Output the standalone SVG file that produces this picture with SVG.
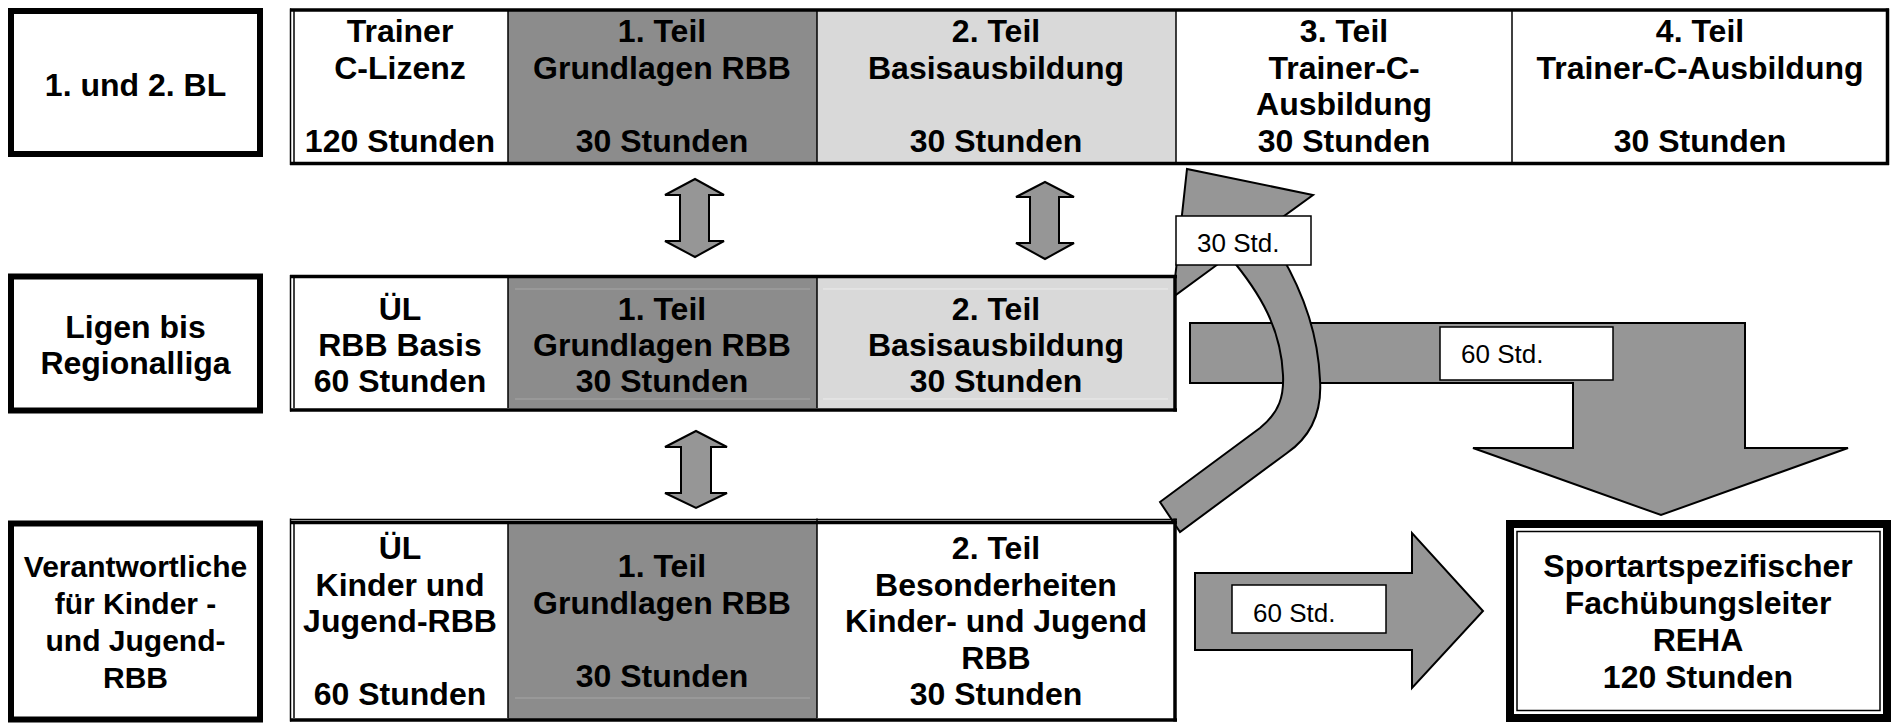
<svg xmlns="http://www.w3.org/2000/svg" width="1894" height="724" viewBox="0 0 1894 724">
<style>
.t{font-family:"Liberation Sans",Arial,sans-serif;font-weight:bold;font-size:32px;fill:#000;text-anchor:middle}
.s{font-size:30px}
.lb{font-family:"Liberation Sans",Arial,sans-serif;font-size:26px;fill:#000}
.box{fill:#fff;stroke:#000;stroke-width:6}
.arr{fill:#969696;stroke:#000;stroke-width:2;stroke-linejoin:miter}
.lbox{fill:#fff;stroke:#000;stroke-width:1.5}
.dark{fill:#8c8c8c}
.light{fill:#d9d9d9}
.thick{stroke:#000;stroke-width:3.5;fill:none}
.thin{stroke:#000;stroke-width:1.5;fill:none}
.fd{stroke:#a6a6a6;stroke-width:1;fill:none}
.fl{stroke:#ececec;stroke-width:1;fill:none}
</style>
<rect width="1894" height="724" fill="#fff"/>
<g id="connectors">
  <path class="arr" d="M695,179 L724,195 L709,195 L709,241 L724,241 L695,257 L665,241 L680,241 L680,195 L665,195 Z"/>
  <path class="arr" d="M1045,182 L1074,197 L1059,197 L1059,243 L1074,243 L1045,259 L1016,243 L1030,243 L1030,197 L1016,197 Z"/>
  <path class="arr" d="M696,431 L727,447 L711,447 L711,493 L727,493 L696,508 L665,493 L681,493 L681,447 L665,447 Z"/>
  <path class="arr" d="M1190,323 L1745,323 L1745,448 L1848,448 L1661,515 L1473,448 L1573,448 L1573,383 L1190,383 Z"/>
  <path class="arr" d="M1160,502 L1260,428 C1280,412 1284,395 1283,375 C1281,330 1262,295 1229,256 L1173,297 L1187,169 L1313,195 L1265,230 C1300,280 1318,330 1320,380 C1322,410 1313,435 1287,453 L1180,532 Z"/>
  <path class="arr" d="M1195,573 L1412,573 L1412,533 L1483,611 L1412,688 L1412,650 L1195,650 Z"/>
  <rect class="lbox" x="1176" y="216" width="135" height="49"/>
  <text class="lb" x="1197" y="252">30 Std.</text>
  <rect class="lbox" x="1440" y="327" width="173" height="53"/>
  <text class="lb" x="1461" y="363">60 Std.</text>
  <rect class="lbox" x="1232" y="585" width="154" height="48"/>
  <text class="lb" x="1253" y="622">60 Std.</text>
</g>
<g id="label-bl">
  <rect class="box" x="11" y="11" width="249" height="143"/>
  <text class="t" x="135.5" y="96">1. und 2. BL</text>
</g>
<g id="label-liga">
  <rect class="box" x="11" y="276.5" width="249" height="134"/>
  <text class="t" x="135.5" y="338">Ligen bis</text>
  <text class="t" x="135.5" y="374">Regionalliga</text>
</g>
<g id="label-kinder">
  <rect class="box" x="11" y="523.5" width="249" height="196"/>
  <text class="t s" x="135.5" y="577">Verantwortliche</text>
  <text class="t s" x="135.5" y="614">für Kinder -</text>
  <text class="t s" x="135.5" y="651">und Jugend-</text>
  <text class="t s" x="135.5" y="688">RBB</text>
</g>
<g id="row1">
  <rect class="dark" x="508" y="11" width="309" height="151"/>
  <rect class="light" x="817" y="11" width="359" height="151"/>
  <line class="thick" x1="290" y1="10" x2="1889" y2="10"/>
  <line class="thick" x1="290" y1="163.5" x2="1889" y2="163.5"/>
  <line class="thick" x1="1887.5" y1="8.5" x2="1887.5" y2="165"/>
  <line class="thin" x1="290.5" y1="8.5" x2="290.5" y2="165"/>
  <line class="thin" x1="294" y1="11" x2="294" y2="162"/>
  <line class="thin" x1="508" y1="11" x2="508" y2="162"/>
  <line class="thin" x1="817" y1="11" x2="817" y2="162"/>
  <line class="thin" x1="1176" y1="11" x2="1176" y2="162"/>
  <line class="thin" x1="1512" y1="11" x2="1512" y2="162"/>
  <text class="t" x="400" y="42">Trainer</text>
  <text class="t" x="400" y="78.5">C-Lizenz</text>
  <text class="t" x="400" y="151.5">120 Stunden</text>
  <text class="t" x="662" y="42">1. Teil</text>
  <text class="t" x="662" y="78.5">Grundlagen RBB</text>
  <text class="t" x="662" y="151.5">30 Stunden</text>
  <text class="t" x="996" y="42">2. Teil</text>
  <text class="t" x="996" y="78.5">Basisausbildung</text>
  <text class="t" x="996" y="151.5">30 Stunden</text>
  <text class="t" x="1344" y="42">3. Teil</text>
  <text class="t" x="1344" y="78.5">Trainer-C-</text>
  <text class="t" x="1344" y="115">Ausbildung</text>
  <text class="t" x="1344" y="151.5">30 Stunden</text>
  <text class="t" x="1700" y="42">4. Teil</text>
  <text class="t" x="1700" y="78.5">Trainer-C-Ausbildung</text>
  <text class="t" x="1700" y="151.5">30 Stunden</text>
</g>
<g id="row2">
  <rect fill="#fff" x="294" y="278" width="214" height="130"/>
  <rect class="dark" x="508" y="278" width="309" height="130"/>
  <rect class="light" x="817" y="278" width="358" height="130"/>
  <line class="fd" x1="515" y1="289" x2="810" y2="289"/>
  <line class="fd" x1="515" y1="399" x2="810" y2="399"/>
  <line class="fl" x1="823" y1="289" x2="1168" y2="289"/>
  <line class="fl" x1="823" y1="399" x2="1168" y2="399"/>
  <line class="thick" x1="290" y1="276.5" x2="1177" y2="276.5"/>
  <line class="thick" x1="290" y1="410" x2="1177" y2="410"/>
  <line class="thick" x1="1175" y1="275" x2="1175" y2="411.5"/>
  <line class="thin" x1="290.5" y1="275" x2="290.5" y2="411.5"/>
  <line class="thin" x1="294" y1="278" x2="294" y2="408"/>
  <line class="thin" x1="508" y1="278" x2="508" y2="408"/>
  <line class="thin" x1="817" y1="278" x2="817" y2="408"/>
  <text class="t" x="400" y="320">ÜL</text>
  <text class="t" x="400" y="356">RBB Basis</text>
  <text class="t" x="400" y="392">60 Stunden</text>
  <text class="t" x="662" y="320">1. Teil</text>
  <text class="t" x="662" y="356">Grundlagen RBB</text>
  <text class="t" x="662" y="392">30 Stunden</text>
  <text class="t" x="996" y="320">2. Teil</text>
  <text class="t" x="996" y="356">Basisausbildung</text>
  <text class="t" x="996" y="392">30 Stunden</text>
</g>
<g id="row3">
  <rect fill="#fff" x="294" y="522" width="881" height="197"/>
  <rect class="dark" x="508" y="523" width="309" height="196"/>
  <line class="fd" x1="515" y1="698" x2="810" y2="698"/>
  <line class="thin" x1="290" y1="519.5" x2="1177" y2="519.5"/>
  <line class="thick" x1="290" y1="522.5" x2="1177" y2="522.5"/>
  <line class="thick" x1="290" y1="720" x2="1177" y2="720"/>
  <line class="thick" x1="1175" y1="518.5" x2="1175" y2="721.5"/>
  <line class="thin" x1="290.5" y1="518.5" x2="290.5" y2="721.5"/>
  <line class="thin" x1="294" y1="523" x2="294" y2="718"/>
  <line class="thin" x1="508" y1="523" x2="508" y2="718"/>
  <line class="thin" x1="817" y1="518.5" x2="817" y2="718"/>
  <text class="t" x="400" y="559">ÜL</text>
  <text class="t" x="400" y="595.5">Kinder und</text>
  <text class="t" x="400" y="632">Jugend-RBB</text>
  <text class="t" x="400" y="705">60 Stunden</text>
  <text class="t" x="662" y="577">1. Teil</text>
  <text class="t" x="662" y="613.5">Grundlagen RBB</text>
  <text class="t" x="662" y="686.5">30 Stunden</text>
  <text class="t" x="996" y="559">2. Teil</text>
  <text class="t" x="996" y="595.5">Besonderheiten</text>
  <text class="t" x="996" y="632">Kinder- und Jugend</text>
  <text class="t" x="996" y="668.5">RBB</text>
  <text class="t" x="996" y="705">30 Stunden</text>
</g>
<g id="reha">
  <rect fill="#fff" stroke="#000" stroke-width="8" x="1510" y="524" width="377" height="194"/>
  <rect fill="none" stroke="#000" stroke-width="1.5" x="1517" y="531.5" width="363" height="179"/>
  <text class="t" x="1698" y="577">Sportartspezifischer</text>
  <text class="t" x="1698" y="614">Fachübungsleiter</text>
  <text class="t" x="1698" y="651">REHA</text>
  <text class="t" x="1698" y="688">120 Stunden</text>
</g>
</svg>
